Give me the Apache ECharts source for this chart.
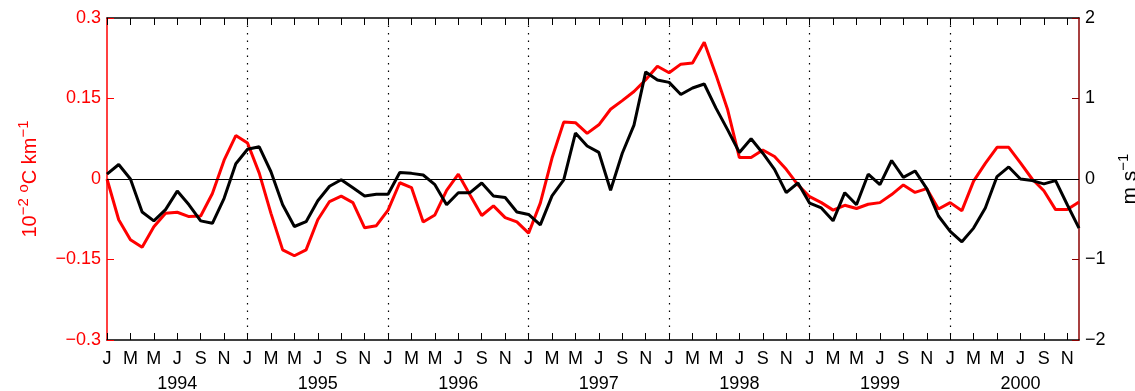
<!DOCTYPE html>
<html>
<head>
<meta charset="utf-8">
<script src="https://cdn.jsdelivr.net/npm/echarts@6/dist/echarts.min.js"></script>
<style>
html,body{margin:0;padding:0;background:#fff;}
#chart{width:1135px;height:391px;}
</style>
</head>
<body>
<div id="chart"></div>
<script>
// ---- data ----
const years = [1994, 1995, 1996, 1997, 1998, 1999, 2000];
const monthLetters = ['J','F','M','A','M','J','J','A','S','O','N','D'];
const leftTicks = [-0.3, -0.15, 0, 0.15, 0.3];
const rightTicks = [-2, -1, 0, 1, 2];
// red series (left axis, 10^-2 °C km^-1), monthly Jan 1994 - Dec 2000
const redValues = [
  0.000, -0.076, -0.113, -0.127, -0.089, -0.064, -0.062, -0.070, -0.069, -0.027, 0.035, 0.081,
  0.067, 0.011, -0.064, -0.132, -0.143, -0.132, -0.076, -0.042, -0.032, -0.044, -0.091, -0.087,
  -0.058, -0.007, -0.016, -0.080, -0.067, -0.021, 0.009, -0.030, -0.068, -0.050, -0.072, -0.080,
  -0.101, -0.045, 0.039, 0.106, 0.105, 0.085, 0.101, 0.130, 0.146, 0.163, 0.185, 0.210,
  0.198, 0.214, 0.216, 0.255, 0.194, 0.129, 0.040, 0.040, 0.054, 0.042, 0.018, -0.011,
  -0.033, -0.044, -0.058, -0.049, -0.055, -0.047, -0.044, -0.029, -0.011, -0.025, -0.018, -0.056,
  -0.044, -0.059, -0.004, 0.029, 0.059, 0.059, 0.030, 0.000, -0.022, -0.057, -0.057, -0.043
];
// black series (right axis, m s^-1)
const blackValues = [
  0.06, 0.18, 0.00, -0.41, -0.52, -0.38, -0.15, -0.32, -0.52, -0.55, -0.24, 0.19,
  0.37, 0.40, 0.09, -0.32, -0.59, -0.53, -0.27, -0.09, -0.01, -0.11, -0.21, -0.19,
  -0.19, 0.08, 0.07, 0.05, -0.07, -0.32, -0.17, -0.17, -0.05, -0.21, -0.23, -0.41,
  -0.44, -0.57, -0.21, -0.01, 0.57, 0.41, 0.33, -0.14, 0.32, 0.67, 1.33, 1.23,
  1.20, 1.05, 1.13, 1.18, 0.88, 0.61, 0.33, 0.50, 0.32, 0.12, -0.17, -0.05,
  -0.30, -0.36, -0.52, -0.17, -0.32, 0.06, -0.07, 0.23, 0.02, 0.10, -0.12, -0.46,
  -0.65, -0.78, -0.61, -0.36, 0.03, 0.15, 0.00, -0.02, -0.06, -0.02, -0.32, -0.61
];

const categories = [];
years.forEach(y => monthLetters.forEach((m, k) => categories.push(y + '-' + (k + 1))));

const FONT = '"Liberation Sans", Arial, Helvetica, sans-serif';
const fmtNum = v => {
  const r = Math.round(v * 100) / 100;
  if (r === 0) return '0';
  return (r < 0 ? '\u2212' : '') + Math.abs(r);
};

const chart = echarts.init(document.getElementById('chart'), null, {renderer: 'canvas'});
chart.setOption({
  animation: false,
  backgroundColor: '#fff',
  grid: {left: 107, right: 56, top: 18, bottom: 51, containLabel: false, outerBoundsMode: 'none'},
  xAxis: [{
    type: 'category',
    data: categories,
    boundaryGap: false,
    position: 'bottom',
    axisLine: {show: true, onZero: false, lineStyle: {color: '#000', width: 1.5}},
    axisTick: {show: true, inside: true, interval: 1, length: 7, lineStyle: {color: '#000', width: 1}},
    axisLabel: {
      show: true, interval: 1, margin: 7, color: '#000', fontFamily: FONT, fontSize: 18, lineHeight: 25,
      formatter: (value, index) => {
        const k = index % 12;
        const letter = monthLetters[k];
        if (k === 6) return letter + '\n' + years[Math.floor(index / 12)];
        return letter;
      }
    },
    splitLine: {
      show: true,
      interval: (index) => index > 0 && index % 12 === 0,
      lineStyle: {color: '#000', width: 1.2, type: [1.5, 6]}
    }
  }, {
    type: 'category',
    data: categories,
    boundaryGap: false,
    position: 'top',
    axisLine: {show: true, onZero: false, lineStyle: {color: '#000', width: 1.5}},
    axisTick: {show: true, inside: true, interval: 1, length: 7, lineStyle: {color: '#000', width: 1}},
    axisLabel: {show: false},
    splitLine: {show: false}
  }],
  yAxis: [{
    type: 'value',
    position: 'left',
    min: leftTicks[0], max: leftTicks[leftTicks.length - 1], interval: 0.15,
    axisLine: {show: true, onZero: false, lineStyle: {color: '#ff0000', width: 1.5}},
    axisTick: {show: true, inside: true, length: 7, lineStyle: {color: '#ff0000', width: 1}},
    axisLabel: {color: '#ff0000', fontFamily: FONT, fontSize: 18, margin: 6, formatter: fmtNum},
    splitLine: {show: false},
    name: '10{sup|\u22122} {sup|o}C km{sup|\u22121}',
    nameLocation: 'middle',
    nameRotate: 90,
    nameGap: 61,
    nameTextStyle: {
      color: '#ff0000', fontFamily: FONT, fontSize: 20, lineHeight: 28, verticalAlign: 'bottom',
      rich: {sup: {color: '#ff0000', fontFamily: FONT, fontSize: 15, lineHeight: 28, verticalAlign: 'top'}}
    }
  }, {
    type: 'value',
    position: 'right',
    min: rightTicks[0], max: rightTicks[rightTicks.length - 1], interval: 1,
    axisLine: {show: true, onZero: false, lineStyle: {color: '#8b0000', width: 1.5}},
    axisTick: {show: true, inside: true, length: 7, lineStyle: {color: '#8b0000', width: 1}},
    axisLabel: {color: '#000', fontFamily: FONT, fontSize: 18, margin: 6, formatter: fmtNum},
    splitLine: {show: false},
    name: 'm s{sup|\u22121}',
    nameLocation: 'middle',
    nameRotate: 90,
    nameGap: 40,
    nameTextStyle: {
      color: '#000', fontFamily: FONT, fontSize: 21, lineHeight: 28, verticalAlign: 'bottom',
      rich: {sup: {color: '#000', fontFamily: FONT, fontSize: 15, lineHeight: 28, verticalAlign: 'top'}}
    }
  }],
  series: [{
    name: 'red',
    type: 'line',
    xAxisIndex: 0,
    yAxisIndex: 0,
    data: redValues,
    symbol: 'none',
    lineStyle: {color: '#ff0000', width: 3},
    itemStyle: {color: '#ff0000'},
    markLine: {
      silent: true,
      symbol: 'none',
      label: {show: false},
      lineStyle: {color: '#000', width: 1.2, type: 'solid'},
      data: [{yAxis: 0}]
    },
    z: 3
  }, {
    name: 'black',
    type: 'line',
    xAxisIndex: 0,
    yAxisIndex: 1,
    data: blackValues,
    symbol: 'none',
    lineStyle: {color: '#000', width: 3},
    itemStyle: {color: '#000'},
    z: 4
  }]
});
</script>
</body>
</html>
